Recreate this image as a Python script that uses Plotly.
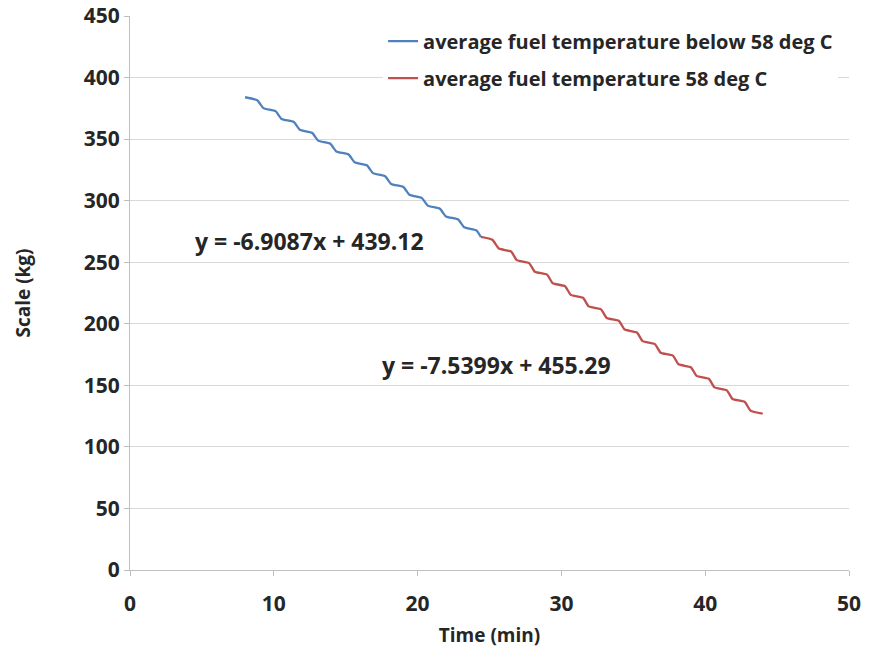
import plotly.graph_objects as go

# Blue series: average fuel temperature below 58 deg C
blue_time = [8.0, 8.85, 9.27, 10.12, 10.54, 11.39, 11.81, 12.66, 13.08, 13.93,
             14.35, 15.2, 15.62, 16.47, 16.89, 17.74, 18.16, 19.01, 19.43, 20.28,
             20.7, 21.55, 21.97, 22.82, 23.24, 24.09, 24.4]
blue_mass = [384.0, 381.5, 375.2, 372.7, 366.4, 363.9, 357.6, 355.1, 348.8, 346.3,
             340.0, 337.5, 331.2, 328.7, 322.4, 319.9, 313.6, 311.1, 304.8, 302.3,
             296.0, 293.5, 287.2, 284.7, 278.4, 275.9, 270.5]

# Red series: average fuel temperature 58 deg C
red_time = [24.4, 25.2, 25.65, 26.5, 26.9, 27.75, 28.15, 29.0, 29.4, 30.25,
            30.65, 31.5, 31.9, 32.75, 33.15, 34.0, 34.4, 35.25, 35.65, 36.5,
            36.9, 37.75, 38.15, 39.0, 39.4, 40.25, 40.65, 41.5, 41.9, 42.75,
            43.15, 44.0]
red_mass = [270.5, 268.2, 261.1, 258.7, 251.7, 249.3, 242.3, 239.9, 232.9, 230.5,
            223.5, 221.1, 214.1, 211.7, 204.7, 202.3, 195.3, 192.9, 185.9, 183.5,
            176.5, 174.1, 167.1, 164.7, 157.7, 155.3, 148.3, 145.9, 138.9, 136.5,
            129.5, 127.1]

series_names = ["average fuel temperature below 58 deg C",
                "average fuel temperature 58 deg C"]
eq_texts = ["y = -6.9087x + 439.12", "y = -7.5399x + 455.29"]
eq_x = [12.5, 25.5]
eq_y = [267.5, 166.5]

x_ticks = [0, 10, 20, 30, 40, 50]
y_ticks = [0, 50, 100, 150, 200, 250, 300, 350, 400, 450]

FONT = "Open Sans"
TXT = "#262626"

fig = go.Figure()
fig.add_trace(go.Scatter(x=blue_time, y=blue_mass, mode="lines",
                         name=series_names[0], legendgroup="a",
                         line=dict(color="#4F81BD", width=2.3, shape="spline", smoothing=0.5)))
fig.add_trace(go.Scatter(x=red_time, y=red_mass, mode="lines",
                         name=series_names[1], legendgroup="b",
                         line=dict(color="#C0504D", width=2.3, shape="spline", smoothing=0.5)))

for t, xx, yy in zip(eq_texts, eq_x, eq_y):
    fig.add_annotation(x=xx, y=yy, text=t, showarrow=False,
                       font=dict(family=FONT, size=23, color=TXT, weight="bold"))

fig.update_layout(
    width=869, height=660,
    margin=dict(l=130, r=20, t=16, b=90),
    plot_bgcolor="white", paper_bgcolor="white",
    font=dict(family=FONT, size=21, color=TXT, weight="bold"),
    legend=dict(x=0.352, y=0.99, xanchor="left", yanchor="top",
                bgcolor="white", borderwidth=0,
                font=dict(family=FONT, size=20, color=TXT, weight="bold"),
                itemwidth=30, tracegroupgap=8),
    xaxis=dict(range=[0, 50], tickvals=x_ticks, showgrid=False,
               showline=True, linecolor="#BFBFBF", linewidth=1,
               ticks="outside", ticklen=5, tickcolor="#BFBFBF",
               ticklabelstandoff=10,
               zeroline=False, automargin=False,
               title=dict(text="Time (min)", standoff=12,
                          font=dict(family=FONT, size=19, color=TXT, weight="bold"))),
    yaxis=dict(range=[0, 450], tickvals=y_ticks, showgrid=True,
               gridcolor="#D9D9D9", gridwidth=1,
               showline=True, linecolor="#BFBFBF", linewidth=1,
               ticks="outside", ticklen=5, tickcolor="#BFBFBF",
               zeroline=False, automargin=False,
               title=dict(text="Scale (kg)", standoff=48,
                          font=dict(family=FONT, size=19, color=TXT, weight="bold"))),
)

fig.write_html("out.html")
